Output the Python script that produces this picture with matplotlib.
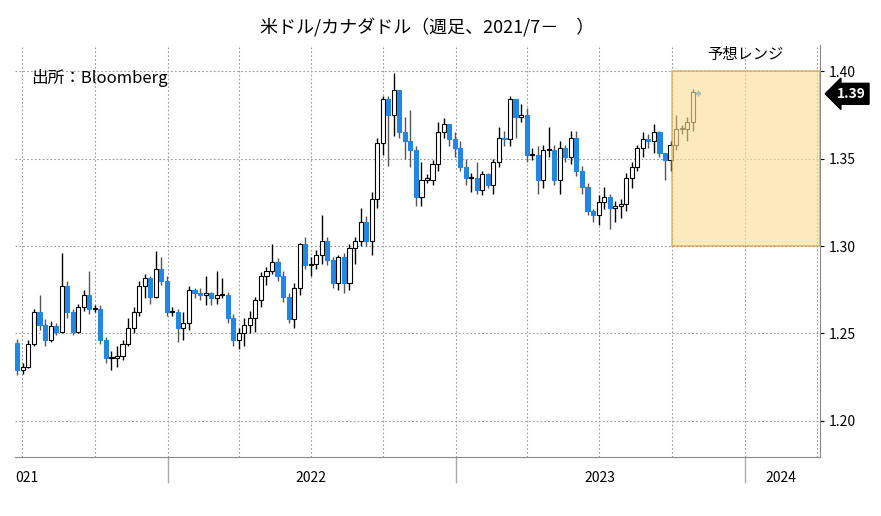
import numpy as np
import pandas as pd
import matplotlib
matplotlib.use("Agg")
import matplotlib.pyplot as plt
import matplotlib.dates as mdates
from matplotlib.patches import Rectangle

plt.rcParams["font.family"] = ["Noto Sans CJK JP", "DejaVu Sans"]

# weekly USD/CAD
first_open = 1.2445
close = [1.229, 1.231, 1.244, 1.262, 1.255, 1.246, 1.254, 1.251, 1.277, 1.262,
         1.251, 1.265, 1.272, 1.264, 1.264, 1.246, 1.236, 1.236, 1.237, 1.244,
         1.253, 1.262, 1.277, 1.282, 1.271, 1.287, 1.280, 1.262, 1.262, 1.253,
         1.256, 1.275, 1.273, 1.272, 1.273, 1.270, 1.272, 1.272, 1.259, 1.246,
         1.250, 1.255, 1.259, 1.269, 1.283, 1.286, 1.291, 1.283, 1.271, 1.258,
         1.276, 1.301, 1.289, 1.290, 1.295, 1.303, 1.292, 1.279, 1.294, 1.279,
         1.299, 1.303, 1.314, 1.303, 1.327, 1.359, 1.384, 1.375, 1.389, 1.365,
         1.360, 1.355, 1.328, 1.338, 1.338, 1.347, 1.365, 1.370, 1.361, 1.356,
         1.345, 1.339, 1.339, 1.332, 1.341, 1.335, 1.348, 1.362, 1.361, 1.384,
         1.374, 1.375, 1.352, 1.352, 1.338, 1.355, 1.355, 1.338, 1.356, 1.351,
         1.362, 1.343, 1.334, 1.320, 1.318, 1.325, 1.328, 1.322, 1.323, 1.324,
         1.339, 1.345, 1.356, 1.361, 1.360, 1.365, 1.353, 1.349, 1.358, 1.367,
         1.367, 1.371, 1.388, 1.387]
high = [1.247, 1.233, 1.246, 1.264, 1.272, 1.258, 1.257, 1.256, 1.296, 1.280,
        1.264, 1.267, 1.275, 1.286, 1.266, 1.266, 1.248, 1.240, 1.243, 1.246,
        1.259, 1.265, 1.280, 1.284, 1.283, 1.297, 1.294, 1.283, 1.265, 1.264,
        1.262, 1.277, 1.276, 1.276, 1.283, 1.274, 1.286, 1.282, 1.274, 1.261,
        1.253, 1.259, 1.263, 1.271, 1.285, 1.288, 1.301, 1.293, 1.286, 1.273,
        1.279, 1.302, 1.305, 1.294, 1.298, 1.318, 1.305, 1.294, 1.295, 1.296,
        1.301, 1.305, 1.322, 1.317, 1.331, 1.362, 1.386, 1.386, 1.399, 1.389,
        1.374, 1.378, 1.357, 1.348, 1.341, 1.349, 1.371, 1.373, 1.370, 1.365,
        1.360, 1.350, 1.342, 1.348, 1.343, 1.342, 1.350, 1.368, 1.366, 1.386,
        1.384, 1.381, 1.379, 1.356, 1.357, 1.358, 1.368, 1.358, 1.360, 1.358,
        1.366, 1.366, 1.346, 1.336, 1.321, 1.329, 1.334, 1.330, 1.326, 1.327,
        1.342, 1.348, 1.358, 1.365, 1.364, 1.370, 1.366, 1.352, 1.360, 1.375,
        1.369, 1.374, 1.390, 1.389]
low = [1.226, 1.227, 1.230, 1.243, 1.252, 1.243, 1.245, 1.249, 1.250, 1.259,
       1.249, 1.250, 1.263, 1.261, 1.262, 1.244, 1.233, 1.229, 1.231, 1.235,
       1.243, 1.250, 1.260, 1.270, 1.267, 1.270, 1.278, 1.260, 1.260, 1.245,
       1.246, 1.252, 1.270, 1.269, 1.266, 1.266, 1.267, 1.270, 1.256, 1.243,
       1.241, 1.243, 1.250, 1.251, 1.265, 1.278, 1.284, 1.280, 1.268, 1.256,
       1.253, 1.272, 1.287, 1.283, 1.287, 1.290, 1.289, 1.276, 1.275, 1.273,
       1.275, 1.290, 1.300, 1.300, 1.295, 1.322, 1.352, 1.346, 1.363, 1.362,
       1.350, 1.345, 1.323, 1.323, 1.336, 1.335, 1.343, 1.362, 1.357, 1.351,
       1.343, 1.335, 1.331, 1.330, 1.329, 1.333, 1.330, 1.345, 1.357, 1.357,
       1.362, 1.371, 1.348, 1.349, 1.330, 1.333, 1.351, 1.335, 1.330, 1.348,
       1.347, 1.340, 1.330, 1.318, 1.314, 1.312, 1.321, 1.310, 1.314, 1.316,
       1.320, 1.333, 1.343, 1.351, 1.356, 1.353, 1.351, 1.338, 1.343, 1.355,
       1.364, 1.360, 1.366, 1.386]
dates = pd.date_range("2021-06-25", periods=len(close), freq="7D")

range_lo, range_hi = 1.30, 1.40
range_start = pd.Timestamp("2023-10-01")
last_label = "1.39"
yticks = [1.20, 1.25, 1.30, 1.35, 1.40]
years = [2021, 2022, 2023, 2024]

BLUE = "#2287e3"
fig = plt.figure(figsize=(8.81, 5.16), dpi=100)
ax = fig.add_axes([15 / 881, 1 - 457 / 516, 805 / 881, 412 / 516])

xmin, xmax = pd.Timestamp("2021-06-22"), pd.Timestamp("2024-04-05")
ax.set_xlim(xmin, xmax)
ax.set_ylim(1.1794, 1.4149)

opens = [first_open] + close[:-1]
x = mdates.date2num(dates)
w = 5.2
for xi, o, c, h, l in zip(x, opens, close, high, low):
    up = c >= o
    ax.vlines(xi, l, h, color="black" if up else "#555555", lw=1, zorder=2)
    bot, ht = min(o, c), max(abs(c - o), 0.0006)
    ax.add_patch(Rectangle((xi - w / 2, bot), w, ht, facecolor="white" if up else BLUE,
                           edgecolor="black" if up else BLUE, lw=0.8, zorder=3))

# forecast range box
x0 = mdates.date2num(range_start)
ax.add_patch(Rectangle((x0, range_lo), mdates.date2num(xmax) - x0, range_hi - range_lo,
                       facecolor="#fcdf98", alpha=0.65, edgecolor="#c89a3c", lw=1.2, zorder=4))
ax.text(mdates.date2num(pd.Timestamp("2024-01-01")), 1.4045, "予想レンジ", ha="center",
        va="bottom", fontsize=11)

# grid
ax.yaxis.tick_right()
ax.set_yticks(yticks)
ax.set_yticklabels([f"{v:.2f}" for v in yticks], fontsize=10)
ax.tick_params(axis="y", length=3)
qlines = pd.date_range("2021-07-01", "2024-04-01", freq="QS")
for q in qlines:
    ax.axvline(q, color="#999999", ls=(0, (1.5, 2)), lw=0.8, zorder=1)
for v in yticks:
    ax.axhline(v, color="#999999", ls=(0, (1.5, 2)), lw=0.8, zorder=1)

ax.set_xticks([])
for y in years[1:]:
    xd = mdates.date2num(pd.Timestamp(f"{y}-01-01"))
    ax.plot([xd, xd], [0, -0.06], transform=ax.get_xaxis_transform(), color="#aaaaaa",
            lw=1, clip_on=False)
for y in years:
    xd = mdates.date2num(pd.Timestamp(f"{y}-07-01"))
    if y == 2021:
        ax.text(0.0, -0.05, "021", transform=ax.transAxes, ha="left", va="center", fontsize=10)
    else:
        ax.text(min(xd, mdates.date2num(pd.Timestamp("2024-02-15"))), -0.05, str(y),
                transform=ax.get_xaxis_transform(), ha="center", va="center", fontsize=10)

for s in ["top", "left"]:
    ax.spines[s].set_visible(False)
ax.spines["bottom"].set_color("#888888")
ax.spines["right"].set_color("#888888")

# last price marker
ax.annotate(last_label, xy=(1.0, close[-1]), xycoords=("axes fraction", "data"),
            xytext=(12, 0), textcoords="offset points", ha="left", va="center",
            fontsize=10, fontweight="bold", color="white",
            bbox=dict(boxstyle="larrow,pad=0.25", fc="black", ec="black"))

ax.text(0.02, 0.92, "出所：Bloomberg", transform=ax.transAxes, fontsize=12, va="center")
fig.text(0.485, 0.945, "米ドル/カナダドル（週足、2021/7－　）", ha="center", va="center", fontsize=13)

fig.savefig("out.png", dpi=100)
